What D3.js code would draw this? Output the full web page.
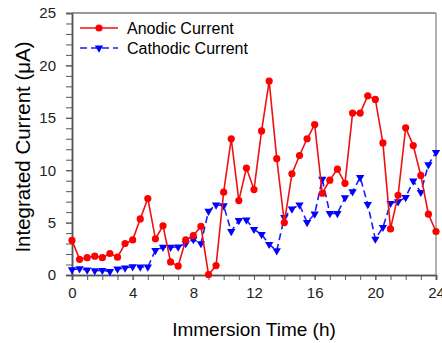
<!DOCTYPE html>
<html>
<head>
<meta charset="utf-8">
<script src="https://cdn.jsdelivr.net/npm/d3@7"></script>
<style>
  body { margin: 0; background: #fff; }
  text { font-family: "Liberation Sans", Arial, sans-serif; }
</style>
</head>
<body>
<div id="chart"></div>
<script>
var times = d3.range(0, 24.01, 0.5);
var anodic = [3.3, 1.5, 1.65, 1.8, 1.65, 2.05, 1.7, 3.0, 3.35, 5.35, 7.3, 3.45,
  4.7, 1.25, 0.85, 3.35, 3.75, 4.65, 0.05, 0.9, 7.9, 13.0, 7.1, 10.2,
  8.15, 13.75, 18.5, 11.1, 5.0, 9.65, 11.4, 13.0, 14.35, 7.8, 9.05, 10.1,
  8.75, 15.45, 15.45, 17.1, 16.75, 12.6, 4.4, 7.6, 14.05, 12.35, 9.5, 5.8, 4.15];
var cathodic = [0.5, 0.6, 0.48, 0.42, 0.45, 0.35, 0.57, 0.67, 0.8, 0.77, 0.77, 2.35,
  2.65, 2.65, 2.67, 3.0, 3.4, 3.0, 6.1, 6.68, 6.62, 4.15, 5.2, 5.25,
  4.36, 3.88, 2.93, 2.32, 5.5, 6.3, 6.7, 5.02, 5.82, 9.15, 5.88, 5.88,
  7.38, 7.95, 9.32, 6.74, 3.43, 4.55, 6.84, 7.0, 7.41, 8.97, 7.89, 10.53, 11.71];
var xTicks = [0, 4, 8, 12, 16, 20, 24];
var yTicks = [0, 5, 10, 15, 20, 25];
var seriesNames = ["Anodic Current", "Cathodic Current"];

var svgWidth = 442, svgHeight = 343;
var margin = { top: 13, right: 6, bottom: 68, left: 72 };
var width = svgWidth - margin.left - margin.right;
var height = svgHeight - margin.top - margin.bottom;

var svg = d3.select("#chart").append("svg")
  .attr("width", svgWidth)
  .attr("height", svgHeight);

var chartGroup = svg.append("g")
  .attr("transform", `translate(${margin.left}, ${margin.top})`);

var xScale = d3.scaleLinear().domain([0, 24]).range([0, width]);
var yScale = d3.scaleLinear().domain([0, 25]).range([height, 0]);

var axisColor = "#555";

// ticks every unit, major ones labelled
var xMinor = chartGroup.append("g")
  .attr("transform", `translate(0, ${height})`)
  .call(d3.axisBottom(xScale).tickValues(d3.range(0, 25, 1)).tickSize(5).tickFormat(""));
var xMajor = chartGroup.append("g")
  .attr("transform", `translate(0, ${height})`)
  .call(d3.axisBottom(xScale).tickValues(xTicks).tickSize(5).tickPadding(7));
var yMinor = chartGroup.append("g")
  .call(d3.axisLeft(yScale).tickValues(d3.range(0, 26, 1)).tickSize(6).tickFormat(""));
var yMajor = chartGroup.append("g")
  .call(d3.axisLeft(yScale).tickValues(yTicks).tickSize(6).tickPadding(10));

[xMinor, xMajor, yMinor, yMajor].forEach(function(g) {
  g.selectAll("path").attr("stroke", axisColor).attr("stroke-width", 1.5);
  g.selectAll("line").attr("stroke", axisColor).attr("stroke-width", 1);
  g.selectAll("text").attr("fill", "#222").style("font-size", "15px");
});

// frame top and right
chartGroup.append("line")
  .attr("x1", 0).attr("x2", width).attr("y1", 0).attr("y2", 0)
  .attr("stroke", "#777").attr("stroke-width", 1.5);
chartGroup.append("line")
  .attr("x1", width).attr("x2", width).attr("y1", 0).attr("y2", height)
  .attr("stroke", "#999").attr("stroke-width", 1.5);

var line = d3.line()
  .x(function(d, i) { return xScale(times[i]); })
  .y(function(d) { return yScale(d); });

// cathodic series
chartGroup.append("path")
  .datum(cathodic)
  .attr("d", line)
  .attr("fill", "none")
  .attr("stroke", "#1a1aff")
  .attr("stroke-width", 1.6)
  .attr("stroke-dasharray", "7,4");

var tri = d3.symbol().type(d3.symbolTriangle).size(30);
chartGroup.selectAll(".tri")
  .data(cathodic)
  .enter()
  .append("path")
  .attr("class", "tri")
  .attr("d", tri)
  .attr("transform", function(d, i) {
    return `translate(${xScale(times[i])}, ${yScale(d)}) rotate(180)`;
  })
  .attr("fill", "#0000ff");

// anodic series
chartGroup.append("path")
  .datum(anodic)
  .attr("d", line)
  .attr("fill", "none")
  .attr("stroke", "#ee1111")
  .attr("stroke-width", 1.6);

chartGroup.selectAll(".dot")
  .data(anodic)
  .enter()
  .append("circle")
  .attr("class", "dot")
  .attr("cx", function(d, i) { return xScale(times[i]); })
  .attr("cy", function(d) { return yScale(d); })
  .attr("r", 3.6)
  .attr("fill", "#ff0000");

// legend
var legend = svg.append("g").attr("transform", "translate(80, 28)");
legend.append("line").attr("x1", 0).attr("x2", 38).attr("y1", 0).attr("y2", 0)
  .attr("stroke", "#ee1111").attr("stroke-width", 1.6);
legend.append("circle").attr("cx", 19).attr("cy", 0).attr("r", 3.6).attr("fill", "#ff0000");
legend.append("text").attr("x", 47).attr("y", 6).style("font-size", "16px").text(seriesNames[0]);

legend.append("line").attr("x1", 0).attr("x2", 38).attr("y1", 20).attr("y2", 20)
  .attr("stroke", "#1a1aff").attr("stroke-width", 1.6).attr("stroke-dasharray", "7,4");
legend.append("path").attr("d", tri)
  .attr("transform", "translate(19, 20) rotate(180)").attr("fill", "#0000ff");
legend.append("text").attr("x", 47).attr("y", 26).style("font-size", "16px").text(seriesNames[1]);

// axis titles
svg.append("text")
  .attr("transform", `translate(30, ${margin.top + height / 2 + 3}) rotate(-90)`)
  .attr("text-anchor", "middle")
  .style("font-size", "20.5px")
  .text("Integrated Current (μA)");

svg.append("text")
  .attr("x", margin.left + width / 2)
  .attr("y", 336)
  .attr("text-anchor", "middle")
  .style("font-size", "19px")
  .text("Immersion Time (h)");
</script>
</body>
</html>
